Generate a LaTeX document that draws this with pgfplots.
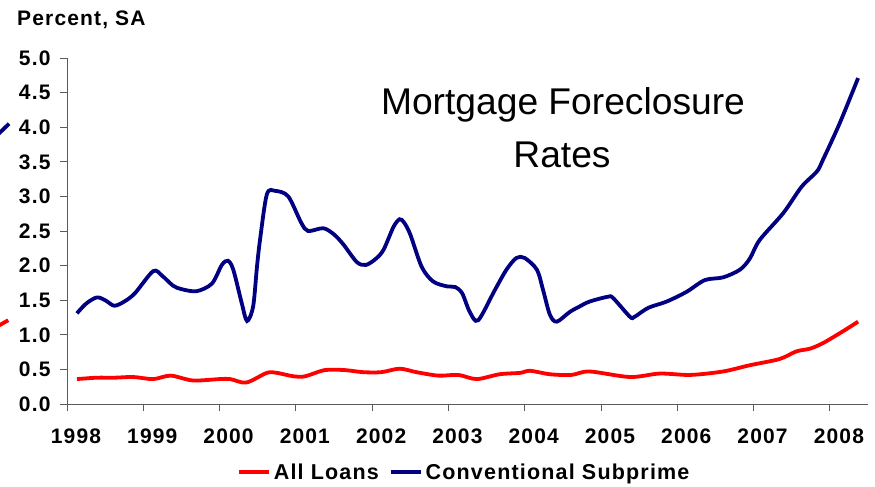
\documentclass[border=0pt]{standalone}
\usepackage{fontspec}
\setmainfont{Liberation Sans}
\newfontfamily\lblfont[LetterSpace=5.5]{Liberation Sans}
\usepackage{pgfplots}
\pgfplotsset{compat=1.18}
\definecolor{navyline}{RGB}{0,0,128}
\definecolor{redline}{RGB}{255,0,0}
\definecolor{axisgray}{RGB}{90,90,90}
\begin{document}
\begin{tikzpicture}[x=1pt,y=1pt]
\useasboundingbox (0,0) rectangle (875,487);
\begin{axis}[
  at={(67pt,83pt)}, anchor=south west,
  scale only axis, width=801pt, height=346pt,
  xmin=1998, xmax=2008.5, ymin=0, ymax=5,
  clip=false,
  axis x line=bottom, axis y line=left,
  axis line style={-, axisgray, line width=0.9pt},
  tick style={axisgray, line width=0.9pt},
  tick align=outside, major tick length=7pt,
  xtick={1998,1999,2000,2001,2002,2003,2004,2005,2006,2007,2008},
  ytick={0,0.5,1,1.5,2,2.5,3,3.5,4,4.5,5},
  xticklabel style={/pgf/number format/1000 sep={}, xshift=9pt, yshift=-14pt},
  yticklabel style={/pgf/number format/fixed, /pgf/number format/fixed zerofill, /pgf/number format/precision=1, xshift=-6pt},
  /pgf/number format/assume math mode=true,
  ticklabel style={font=\fontsize{21}{21}\lblfont\bfseries},
  legend columns=2,
  legend style={at={(0.212,-0.1965)}, anchor=west, draw=none, fill=none,
    font=\fontsize{21.5}{21.5}\lblfont\bfseries, inner sep=0pt,
    /tikz/every odd column/.append style={column sep=1pt},
    /tikz/every even column/.append style={column sep=8pt}},
  legend image code/.code={\draw[#1] (0pt,0pt) -- (30pt,0pt);},
]
\addplot[redline, line width=3.8pt, smooth, tension=0.5] coordinates {
(1998.13,0.36) (1998.39,0.38) (1998.62,0.38) (1998.87,0.39) (1999.13,0.36)
(1999.36,0.41) (1999.65,0.34) (2000.00,0.36) (2000.14,0.36) (2000.35,0.31)
(2000.62,0.45) (2000.75,0.45) (2000.97,0.40) (2001.12,0.40) (2001.38,0.49)
(2001.64,0.49) (2001.88,0.46) (2002.12,0.46) (2002.36,0.51) (2002.58,0.46)
(2002.87,0.41) (2003.13,0.42) (2003.37,0.36) (2003.67,0.43) (2003.94,0.45)
(2004.07,0.48) (2004.33,0.43) (2004.61,0.42) (2004.85,0.47) (2005.38,0.39)
(2005.77,0.44) (2006.17,0.42) (2006.60,0.47) (2006.95,0.56) (2007.34,0.65)
(2007.56,0.76) (2007.74,0.80) (2007.91,0.88) (2008.17,1.05) (2008.37,1.19)
};
\addlegendentry{All Loans}
\addplot[navyline, line width=3.8pt, smooth, tension=0.5] coordinates {
(1998.13,1.31) (1998.25,1.45) (1998.39,1.54) (1998.50,1.50) (1998.62,1.42)
(1998.75,1.48) (1998.89,1.60) (1999.13,1.92) (1999.25,1.85) (1999.39,1.71)
(1999.50,1.66) (1999.70,1.63) (1999.90,1.74) (2000.03,2.01) (2000.11,2.07)
(2000.18,1.94) (2000.29,1.46) (2000.36,1.20) (2000.44,1.41) (2000.49,1.98)
(2000.53,2.37) (2000.62,3.03) (2000.73,3.08) (2000.90,3.00) (2001.07,2.62)
(2001.16,2.50) (2001.36,2.54) (2001.50,2.45) (2001.62,2.31) (2001.80,2.05)
(2001.92,2.01) (2002.05,2.10) (2002.15,2.23) (2002.28,2.56) (2002.36,2.67)
(2002.42,2.62) (2002.50,2.45) (2002.65,1.98) (2002.80,1.77) (2002.98,1.70)
(2003.09,1.69) (2003.18,1.60) (2003.28,1.33) (2003.39,1.21) (2003.61,1.65)
(2003.76,1.94) (2003.89,2.11) (2004.00,2.11) (2004.16,1.94) (2004.24,1.65)
(2004.33,1.29) (2004.42,1.19) (2004.59,1.33) (2004.72,1.41) (2004.85,1.48)
(2005.09,1.55) (2005.16,1.53) (2005.38,1.26) (2005.44,1.26) (2005.62,1.39)
(2005.86,1.48) (2006.12,1.62) (2006.36,1.79) (2006.60,1.83) (2006.82,1.94)
(2006.95,2.10) (2007.08,2.37) (2007.39,2.76) (2007.63,3.14) (2007.83,3.36)
(2007.91,3.53) (2008.13,4.06) (2008.37,4.71)
};
\addlegendentry{Conventional Subprime}
% fragments of a neighbouring chart at the left edge
\addplot[navyline, line width=3.8pt, forget plot] coordinates {(1997.10,3.90) (1997.24,4.05)};
\addplot[redline, line width=3.8pt, forget plot] coordinates {(1997.10,1.13) (1997.23,1.21)};
\end{axis}
\node[anchor=base west, font=\fontsize{21}{21}\lblfont\bfseries, inner sep=0pt] at (17,461) {Percent, SA};
\node[anchor=base, font=\fontsize{37.2}{37.2}\selectfont] at (563,372) {Mortgage Foreclosure};
\node[anchor=base, font=\fontsize{37.2}{37.2}\selectfont] at (562,319) {Rates};
\end{tikzpicture}
\end{document}
